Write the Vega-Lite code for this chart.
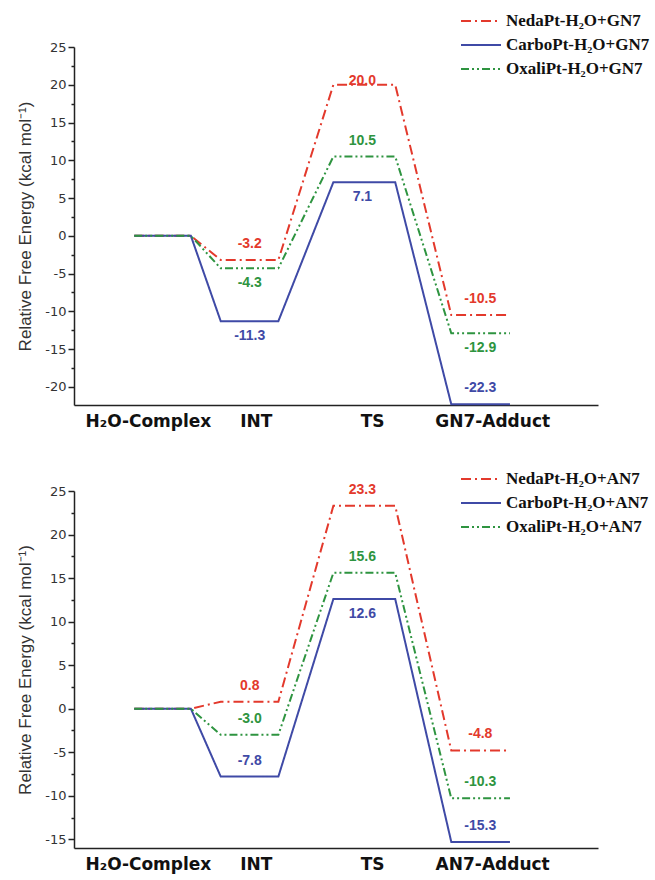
{
  "$schema": "https://vega.github.io/schema/vega-lite/v6.json",
  "background": "white",
  "padding": {"left": 16, "top": 10, "right": 5, "bottom": 5},
  "config": {
    "view": {"stroke": null},
    "locale": {"number": {"decimal": ".", "thousands": ",", "grouping": [3], "currency": ["$", ""], "minus": "-"}},
    "axisX": {
      "ticks": false, "grid": false, "title": null, "labelFont": "DejaVu Sans", "labelFontWeight": "bold",
      "labelFontSize": 17, "labelColor": "#111", "labelPadding": 8, "domainColor": "#222", "domainWidth": 1.5,
      "labelOverlap": false, "labelFlush": false, "labelBound": false
    },
    "axisY": {
      "grid": false, "titleFont": "Liberation Sans", "titleFontSize": 17, "titleFontWeight": "normal",
      "titleColor": "#333", "titlePadding": 10, "labelFont": "DejaVu Sans", "labelFontSize": 13,
      "labelColor": "#333", "labelPadding": 2, "domainColor": "#222", "domainWidth": 1.5, "tickColor": "#222",
      "tickWidth": 1.5, "labelOverlap": false
    },
    "legend": {
      "orient": "none", "title": null, "symbolType": "M-2,0H2", "symbolSize": 400, "symbolStrokeWidth": 2,
      "labelFont": "Liberation Serif", "labelFontWeight": "bold", "labelFontSize": 17, "labelColor": "#111",
      "rowPadding": 5, "labelOffset": 14, "padding": 0, "labelLimit": 300
    }
  },
  "spacing": 86,
  "bounds": "flush",
  "resolve": {
    "scale": {"x": "independent", "y": "independent", "color": "independent", "strokeDash": "independent"},
    "legend": {"color": "independent", "strokeDash": "independent"}
  },
  "vconcat": [
    {
      "width": 524,
      "height": 358,
      "data": {"values": [
        {"series": "NedaPt-H₂O+GN7", "stage": "H2O-Complex", "x0": 11.5, "x1": 22.3, "energy": 0, "pos": "none"},
        {"series": "NedaPt-H₂O+GN7", "stage": "INT", "x0": 28, "x1": 39, "energy": -3.2, "pos": "above"},
        {"series": "NedaPt-H₂O+GN7", "stage": "TS", "x0": 49.5, "x1": 61.3, "energy": 20.0, "pos": "on"},
        {"series": "NedaPt-H₂O+GN7", "stage": "Adduct", "x0": 72, "x1": 83.2, "energy": -10.5, "pos": "above"},
        {"series": "CarboPt-H₂O+GN7", "stage": "H2O-Complex", "x0": 11.5, "x1": 22.3, "energy": 0, "pos": "none"},
        {"series": "CarboPt-H₂O+GN7", "stage": "INT", "x0": 28, "x1": 39, "energy": -11.3, "pos": "below"},
        {"series": "CarboPt-H₂O+GN7", "stage": "TS", "x0": 49.5, "x1": 61.3, "energy": 7.1, "pos": "below"},
        {"series": "CarboPt-H₂O+GN7", "stage": "Adduct", "x0": 72, "x1": 83.2, "energy": -22.3, "pos": "above"},
        {"series": "OxaliPt-H₂O+GN7", "stage": "H2O-Complex", "x0": 11.5, "x1": 22.3, "energy": 0, "pos": "none"},
        {"series": "OxaliPt-H₂O+GN7", "stage": "INT", "x0": 28, "x1": 39, "energy": -4.3, "pos": "below"},
        {"series": "OxaliPt-H₂O+GN7", "stage": "TS", "x0": 49.5, "x1": 61.3, "energy": 10.5, "pos": "above"},
        {"series": "OxaliPt-H₂O+GN7", "stage": "Adduct", "x0": 72, "x1": 83.2, "energy": -12.9, "pos": "below"}
      ]},
      "encoding": {
        "y": {
          "field": "energy", "type": "quantitative",
          "scale": {"domain": [-22.4, 25], "nice": false, "zero": false},
          "axis": {
            "title": "Relative Free Energy (kcal mol⁻¹)",
            "values": [-20, -17.5, -15, -12.5, -10, -7.5, -5, -2.5, 0, 2.5, 5, 7.5, 10, 12.5, 15, 17.5, 20, 22.5, 25],
            "labelExpr": "datum.value % 5 === 0 ? datum.label : ''",
            "tickSize": {"condition": {"test": "datum.value % 5 === 0", "value": 6}, "value": 3}
          }
        },
        "color": {
          "field": "series", "type": "nominal",
          "scale": {"domain": ["NedaPt-H₂O+GN7", "CarboPt-H₂O+GN7", "OxaliPt-H₂O+GN7"], "range": ["#e3392c", "#3f4aa6", "#2e9440"]},
          "legend": {"legendX": 396, "legendY": -37}
        }
      },
      "layer": [
        {
          "transform": [{"fold": ["x0", "x1"], "as": ["end", "x"]}],
          "mark": {"type": "line", "strokeWidth": 2},
          "encoding": {
            "x": {
              "field": "x", "type": "quantitative",
              "scale": {"domain": [0, 100], "nice": false, "zero": false},
              "axis": {
                "values": [14.1, 34.7, 56.9, 79.8],
                "labelExpr": "datum.value < 20 ? 'H₂O-Complex' : datum.value < 40 ? 'INT' : datum.value < 60 ? 'TS' : 'GN7-Adduct'"
              }
            },
            "strokeDash": {
              "field": "series", "type": "nominal",
              "scale": {"domain": ["NedaPt-H₂O+GN7", "CarboPt-H₂O+GN7", "OxaliPt-H₂O+GN7"], "range": [[10, 4, 2, 4], [1, 0], [8, 3, 2, 3, 2, 3]]},
              "legend": {"legendX": 396, "legendY": -37}
            }
          }
        },
        {
          "transform": [{"filter": "datum.pos === 'above'"}],
          "mark": {"type": "text", "font": "Liberation Sans", "fontWeight": "bold", "fontSize": 14, "dy": -16, "dx": 29, "baseline": "middle"},
          "encoding": {"x": {"field": "x0", "type": "quantitative"}, "text": {"field": "energy", "type": "quantitative", "format": ".1f"}}
        },
        {
          "transform": [{"filter": "datum.pos === 'below'"}],
          "mark": {"type": "text", "font": "Liberation Sans", "fontWeight": "bold", "fontSize": 14, "dy": 15, "dx": 29, "baseline": "middle"},
          "encoding": {"x": {"field": "x0", "type": "quantitative"}, "text": {"field": "energy", "type": "quantitative", "format": ".1f"}}
        },
        {
          "transform": [{"filter": "datum.pos === 'on'"}],
          "mark": {"type": "text", "font": "Liberation Sans", "fontWeight": "bold", "fontSize": 14, "dy": -4, "dx": 29, "baseline": "middle"},
          "encoding": {"x": {"field": "x0", "type": "quantitative"}, "text": {"field": "energy", "type": "quantitative", "format": ".1f"}}
        }
      ]
    },
    {
      "width": 524,
      "height": 357,
      "data": {"values": [
        {"series": "NedaPt-H₂O+AN7", "stage": "H2O-Complex", "x0": 11.5, "x1": 22.3, "energy": 0, "pos": "none"},
        {"series": "NedaPt-H₂O+AN7", "stage": "INT", "x0": 28, "x1": 39, "energy": 0.8, "pos": "above"},
        {"series": "NedaPt-H₂O+AN7", "stage": "TS", "x0": 49.5, "x1": 61.3, "energy": 23.3, "pos": "above"},
        {"series": "NedaPt-H₂O+AN7", "stage": "Adduct", "x0": 72, "x1": 83.2, "energy": -4.8, "pos": "above"},
        {"series": "CarboPt-H₂O+AN7", "stage": "H2O-Complex", "x0": 11.5, "x1": 22.3, "energy": 0, "pos": "none"},
        {"series": "CarboPt-H₂O+AN7", "stage": "INT", "x0": 28, "x1": 39, "energy": -7.8, "pos": "above"},
        {"series": "CarboPt-H₂O+AN7", "stage": "TS", "x0": 49.5, "x1": 61.3, "energy": 12.6, "pos": "below"},
        {"series": "CarboPt-H₂O+AN7", "stage": "Adduct", "x0": 72, "x1": 83.2, "energy": -15.3, "pos": "above"},
        {"series": "OxaliPt-H₂O+AN7", "stage": "H2O-Complex", "x0": 11.5, "x1": 22.3, "energy": 0, "pos": "none"},
        {"series": "OxaliPt-H₂O+AN7", "stage": "INT", "x0": 28, "x1": 39, "energy": -3.0, "pos": "above"},
        {"series": "OxaliPt-H₂O+AN7", "stage": "TS", "x0": 49.5, "x1": 61.3, "energy": 15.6, "pos": "above"},
        {"series": "OxaliPt-H₂O+AN7", "stage": "Adduct", "x0": 72, "x1": 83.2, "energy": -10.3, "pos": "above"}
      ]},
      "encoding": {
        "y": {
          "field": "energy", "type": "quantitative",
          "scale": {"domain": [-16, 25], "nice": false, "zero": false},
          "axis": {
            "title": "Relative Free Energy (kcal mol⁻¹)",
            "values": [-15, -12.5, -10, -7.5, -5, -2.5, 0, 2.5, 5, 7.5, 10, 12.5, 15, 17.5, 20, 22.5, 25],
            "labelExpr": "datum.value % 5 === 0 ? datum.label : ''",
            "tickSize": {"condition": {"test": "datum.value % 5 === 0", "value": 6}, "value": 3}
          }
        },
        "color": {
          "field": "series", "type": "nominal",
          "scale": {"domain": ["NedaPt-H₂O+AN7", "CarboPt-H₂O+AN7", "OxaliPt-H₂O+AN7"], "range": ["#e3392c", "#3f4aa6", "#2e9440"]},
          "legend": {"legendX": 396, "legendY": -23}
        }
      },
      "layer": [
        {
          "transform": [{"fold": ["x0", "x1"], "as": ["end", "x"]}],
          "mark": {"type": "line", "strokeWidth": 2},
          "encoding": {
            "x": {
              "field": "x", "type": "quantitative",
              "scale": {"domain": [0, 100], "nice": false, "zero": false},
              "axis": {
                "values": [14.1, 34.7, 56.9, 79.8],
                "labelExpr": "datum.value < 20 ? 'H₂O-Complex' : datum.value < 40 ? 'INT' : datum.value < 60 ? 'TS' : 'AN7-Adduct'"
              }
            },
            "strokeDash": {
              "field": "series", "type": "nominal",
              "scale": {"domain": ["NedaPt-H₂O+AN7", "CarboPt-H₂O+AN7", "OxaliPt-H₂O+AN7"], "range": [[10, 4, 2, 4], [1, 0], [8, 3, 2, 3, 2, 3]]},
              "legend": {"legendX": 396, "legendY": -23}
            }
          }
        },
        {
          "transform": [{"filter": "datum.pos === 'above'"}],
          "mark": {"type": "text", "font": "Liberation Sans", "fontWeight": "bold", "fontSize": 14, "dy": -16, "dx": 29, "baseline": "middle"},
          "encoding": {"x": {"field": "x0", "type": "quantitative"}, "text": {"field": "energy", "type": "quantitative", "format": ".1f"}}
        },
        {
          "transform": [{"filter": "datum.pos === 'below'"}],
          "mark": {"type": "text", "font": "Liberation Sans", "fontWeight": "bold", "fontSize": 14, "dy": 15, "dx": 29, "baseline": "middle"},
          "encoding": {"x": {"field": "x0", "type": "quantitative"}, "text": {"field": "energy", "type": "quantitative", "format": ".1f"}}
        }
      ]
    }
  ]
}
